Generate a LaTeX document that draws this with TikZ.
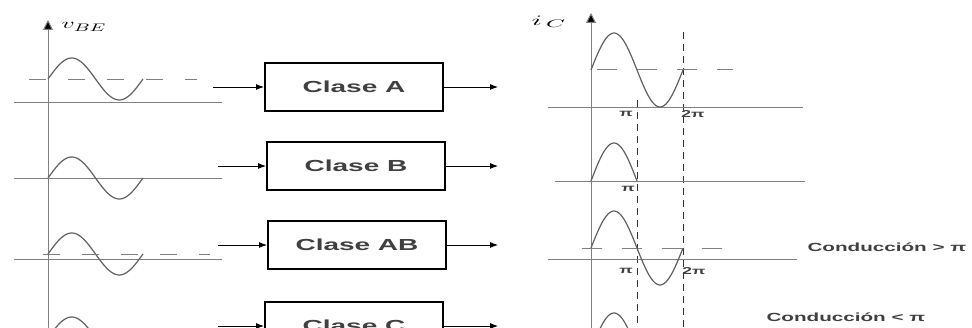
\documentclass[tikz,border=0pt]{standalone}
\usepackage{fontspec}
\usepackage{graphicx}
\usetikzlibrary{arrows.meta}
\newfontfamily\blkfont[FakeStretch=1.75]{Liberation Sans}
\definecolor{linegray}{HTML}{808080}
\definecolor{wavegray}{HTML}{606060}
\tikzset{
  wave/.style={wavegray, line width=1.2pt},
  base/.style={linegray, line width=0.9pt},
  guide/.style={linegray, line width=0.9pt, dash pattern=on 17pt off 22pt},
  vguide/.style={black!80, line width=1pt, dash pattern=on 7pt off 5pt},
  blk/.style={draw, line width=2pt, minimum width=178pt, minimum height=48pt,
    text=black!75, font=\blkfont\bfseries\fontsize{16}{16}\selectfont},
  sig/.style={line width=0.9pt, -{Latex[length=8pt,width=6pt]}},
  axis/.style={linegray, line width=1pt, -{Triangle[length=10pt,width=10pt,fill=black]}},
  piname/.style={text=black!75, font=\blkfont\bfseries\fontsize{10}{10}\selectfont},
  cond/.style={anchor=west, text=black!75, font=\blkfont\bfseries\fontsize{11.8}{11.8}\selectfont},
}
\begin{document}
\begin{tikzpicture}[x=1pt,y=-1pt]
  \useasboundingbox (0,0) rectangle (972,328);
  \clip (0,0) rectangle (972,328);
  % entrada v_BE
  \draw[axis] (48,340) -- (48,20);
  \node[anchor=west] (vbe) at (58,27) {\fontsize{15}{15}\selectfont\scalebox{1.8}[1]{$v_{BE}$}};
  \foreach \c/\b in {79/102,178/178,254/259,338/380} {
    \draw[base] (14,\b) -- (222,\b);
    \draw[wave] plot[domain=0:360,samples=60,smooth] ({48+\x/360*95},{\c-21*sin(\x)});
  }
  \draw[guide] (29,79) -- (197,79);
  \draw[guide] (43,254) -- (210,254);
  % bloques
  \foreach \n/\t/\xc/\y/\xi in {ca/Clase A/354/87/213,cb/Clase B/356/166/218,
                                cab/Clase AB/357/245/218,cc/Clase C/354/326/218} {
    \node[blk] (\n) at (\xc,\y) {\t};
    \coordinate (\n-in) at (\xi,\y);
    \coordinate (\n-out) at (498,\y);
    \draw[sig] (\n-in) -- (\n);
    \draw[sig] (\n) -- (\n-out);
  }
  % salida i_C
  \draw[axis] (591,340) -- (591,13);
  \node[anchor=west] (ic) at (528,22) {\fontsize{15}{15}\selectfont\scalebox{2.2}[1]{$i_{\,C}$}};
  \draw[vguide] (637,100) -- (637,328);
  \draw[vguide] (683,32) -- (683,328);
  % clase A
  \draw[base] (548,107) -- (803,107);
  \draw[guide, dash pattern=on 20pt off 20pt] (597,69) -- (733,69);
  \draw[wave] plot[domain=0:360,samples=60,smooth] ({591+\x/360*92},{70-37*sin(\x)});
  \node[piname] (pa1) at (626,114) {π};
  \node[piname] (pa2) at (693,114) {2π};
  % clase B
  \draw[base] (555,181) -- (805,181);
  \draw[wave] plot[domain=0:180,samples=40,smooth] ({591+\x/360*92},{181-38*sin(\x)});
  \node[piname] (pb1) at (628,189) {π};
  % clase AB
  \draw[base] (548,259) -- (797,259);
  \draw[guide, dash pattern=on 20pt off 20pt] (582,248) -- (723,248);
  \draw[wave] plot[domain=0:360,samples=60,smooth] ({591+\x/360*92},{248-37*sin(\x)});
  \node[piname] (pab1) at (626,271) {π};
  \node[piname] (pab2) at (694,271) {2π};
  \node[cond] (gt) at (804,247) {Conducción > π};
  % clase C
  \draw[wave] plot[domain=0:180,samples=40,smooth] ({591+\x/360*92},{350-37*sin(\x)});
  \node[cond] (lt) at (763,317) {Conducción < π};
\end{tikzpicture}
\end{document}
